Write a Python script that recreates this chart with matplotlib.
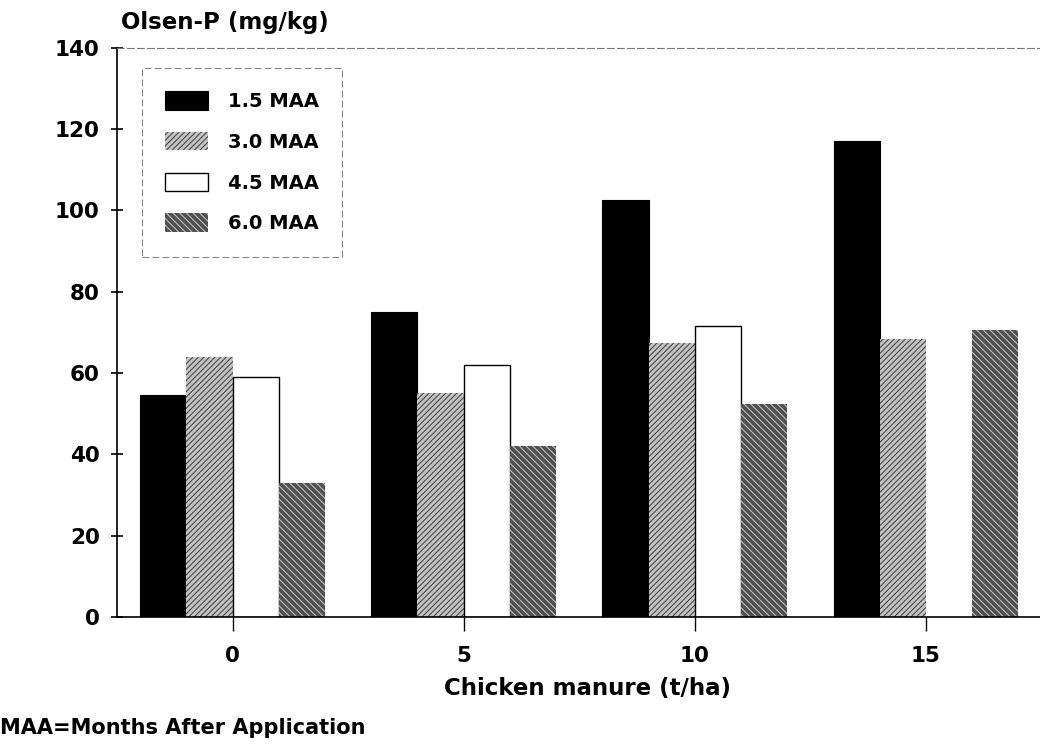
import numpy as np
import matplotlib
matplotlib.use("Agg")
import matplotlib.pyplot as plt

# data
doses = ["0", "5", "10", "15"]
series = ["1.5 MAA", "3.0 MAA", "4.5 MAA", "6.0 MAA"]
maa_15 = [54.5, 75, 102.5, 117]
maa_30 = [64, 55, 67.5, 68.5]
maa_45 = [59, 62, 71.5, np.nan]   # no bar visible at 15 t/ha
maa_60 = [33, 42, 52.5, 70.5]
yticks = [0, 20, 40, 60, 80, 100, 120, 140]

plt.rcParams['font.family'] = ['DejaVu Sans']
plt.rcParams['font.weight'] = 'bold'
plt.rcParams['hatch.linewidth'] = 0.8

fig = plt.figure(figsize=(10.4, 7.47), dpi=100)
ax = fig.add_axes([0.1125, 0.174, 0.889, 0.762])

x = np.arange(len(doses))
w = 0.2
styles = [
    dict(facecolor='black', edgecolor='black', linewidth=0.8),
    dict(facecolor='#c4c4c4', edgecolor='#4a4a4a', hatch='//////', linewidth=0),
    dict(facecolor='white', edgecolor='black', linewidth=1.0),
    dict(facecolor='#505050', edgecolor='#bdbdbd', hatch='\\\\\\\\\\', linewidth=0),
]
values = [maa_15, maa_30, maa_45, maa_60]
for i, (vals, st, lab) in enumerate(zip(values, styles, series)):
    ax.bar(x + (i - 1.5) * w, vals, width=w, label=lab, **st)

ax.set_xlim(-0.5, 3.5)
ax.set_ylim(0, 140)
ax.set_yticks(yticks)
ax.set_xticks(x)
ax.set_xticklabels(doses)

ax.tick_params(axis='y', direction='inout', length=9, width=1.2, pad=8, labelsize=15.5)
ax.tick_params(axis='x', direction='out', length=10, width=1, pad=11, labelsize=15.5)

ax.spines['right'].set_visible(False)
ax.spines['top'].set_linestyle((0, (6, 3)))
ax.spines['top'].set_color('#777777')
ax.spines['top'].set_linewidth(0.8)
ax.spines['left'].set_linewidth(1.2)
ax.spines['bottom'].set_linewidth(1.2)

ax.set_xlabel("Chicken manure (t/ha)", fontsize=16.5, fontweight='bold')
ax.xaxis.set_label_coords(0.509, -0.105)
fig.text(0.116, 0.97, "Olsen-P (mg/kg)", fontsize=16.5, fontweight='bold', va='center', ha='left')
fig.text(0.0, 0.025, "MAA=Months After Application", fontsize=15, fontweight='bold', va='center', ha='left')

leg = ax.legend(loc='upper left', bbox_to_anchor=(0.027, 0.965), fontsize=14,
                handlelength=2.2, handleheight=1.1, labelspacing=1.07,
                handletextpad=1.0, borderpad=1.2, borderaxespad=0,
                fancybox=False, edgecolor='#666666')
leg.get_frame().set_linestyle((0, (6, 3)))
leg.get_frame().set_linewidth(0.8)

fig.savefig("out.png", dpi=100)
